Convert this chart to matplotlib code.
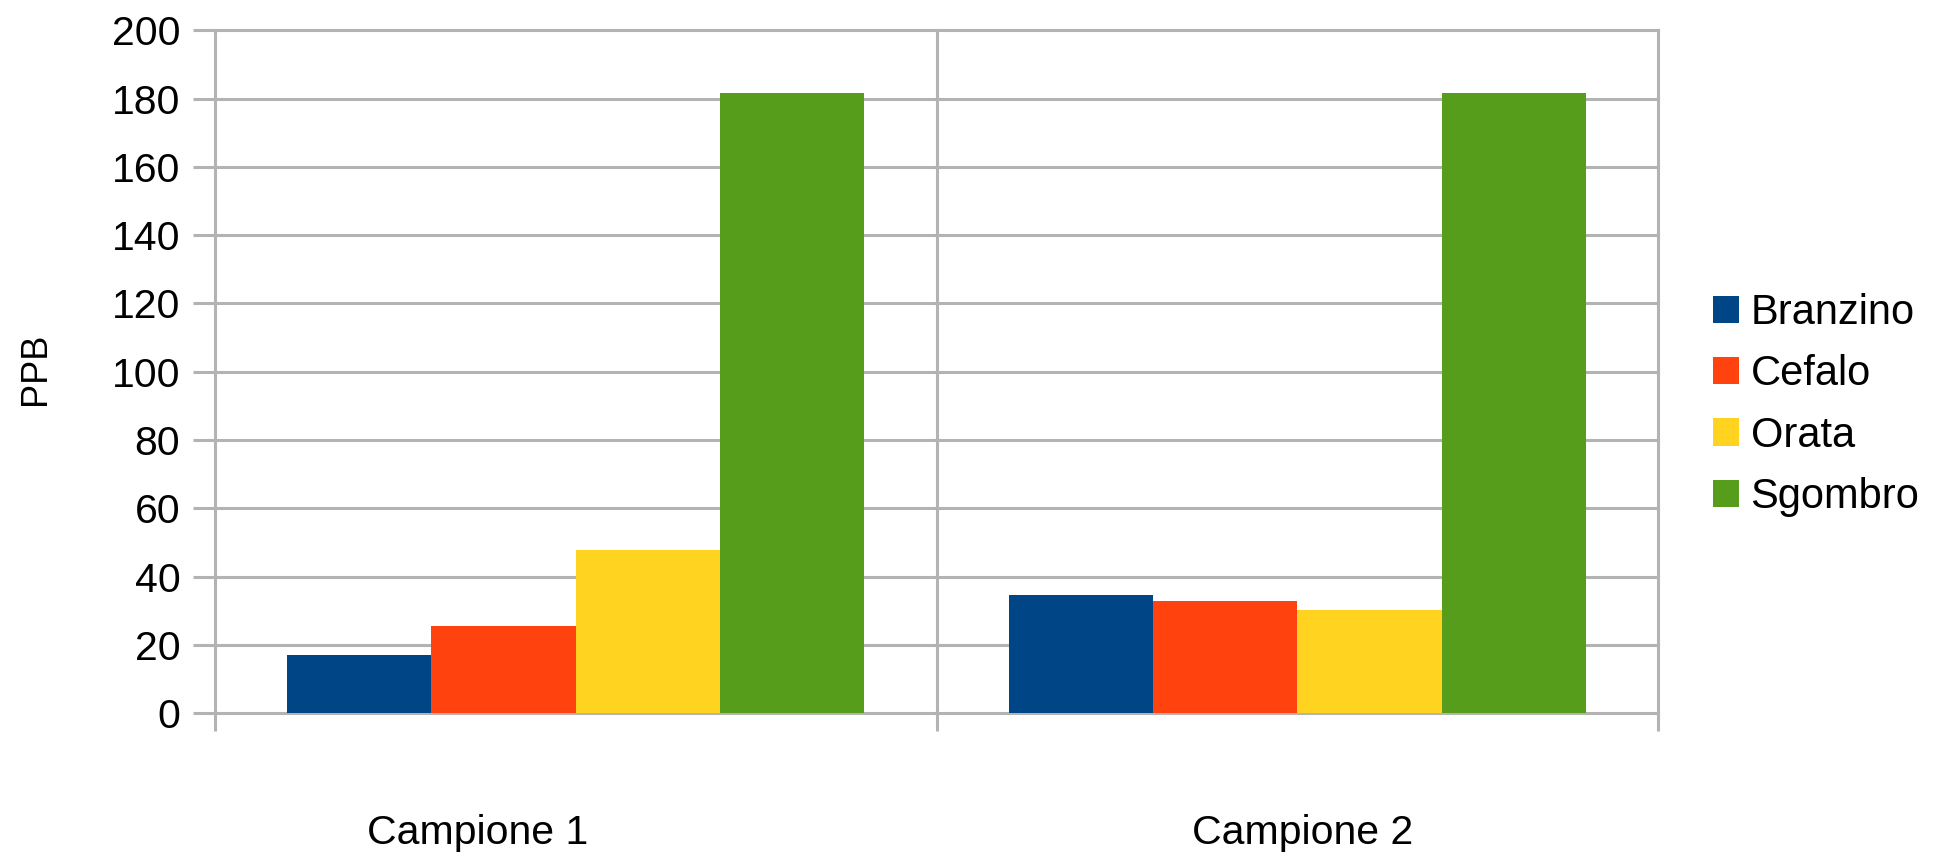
import matplotlib
matplotlib.use("Agg")
import matplotlib.pyplot as plt
import numpy as np

plt.rcParams['font.family'] = ['Liberation Sans', 'DejaVu Sans']

categories = ["Campione 1", "Campione 2"]
series_names = ["Branzino", "Cefalo", "Orata", "Sgombro"]
branzino = [17.0, 34.5]
cefalo = [25.5, 33.0]
orata = [47.8, 30.3]
sgombro = [181.5, 181.5]
yticks = [0, 20, 40, 60, 80, 100, 120, 140, 160, 180, 200]
colors = ["#004586", "#ff420e", "#ffd320", "#579d1c"]

values = [branzino, cefalo, orata, sgombro]
grid_c = "#b3b3b3"

fig = plt.figure(figsize=(19.44, 8.56), dpi=100)
ax = fig.add_axes([215/1944, 1 - 713.3/856, (1658-215)/1944, (713.3-30.3)/856])

x = np.arange(len(categories))
w = 0.2
for i, (name, vals) in enumerate(zip(series_names, values)):
    ax.bar(x + (i - 1.5) * w, vals, width=w, color=colors[i], label=name, zorder=3)

ax.set_xlim(-0.5, len(categories) - 0.5)
ax.set_ylim(0, 200)
ax.set_yticks(yticks)
ax.set_yticklabels([str(t) for t in yticks])
ax.set_xticks([-0.5, 0.5, 1.5])
ax.set_xticklabels([])
for s in ax.spines.values():
    s.set_visible(False)
ax.grid(True, color=grid_c, linewidth=2.2, zorder=0)
ax.set_axisbelow(True)
for gl in ax.get_xgridlines() + ax.get_ygridlines():
    gl.set_clip_on(False)
ax.tick_params(axis='y', length=16, width=2.2, color=grid_c, labelsize=29.5, pad=9, labelcolor='#000000')
ax.tick_params(axis='x', length=13, width=2.2, color=grid_c)

label_x = [-0.136, 1.008]
for lx, cat in zip(label_x, categories):
    ax.text(lx, -0.175, cat, transform=ax.get_xaxis_transform(), ha='center', va='center', fontsize=29.5, color='#000000')

fig.text(35/1944, 1 - 369/856, "PPB", rotation=90, ha='center', va='center', fontsize=26, color='#000000')

handles, labels = ax.get_legend_handles_labels()
leg = fig.legend(handles, labels, loc='center left', bbox_to_anchor=(1713/1944, 1 - 405/856),
                 frameon=False, fontsize=30, handlelength=0.63, handleheight=0.63,
                 handletextpad=0.27, labelspacing=0.515, borderaxespad=0, borderpad=0)

fig.savefig("out.png", dpi=100)
